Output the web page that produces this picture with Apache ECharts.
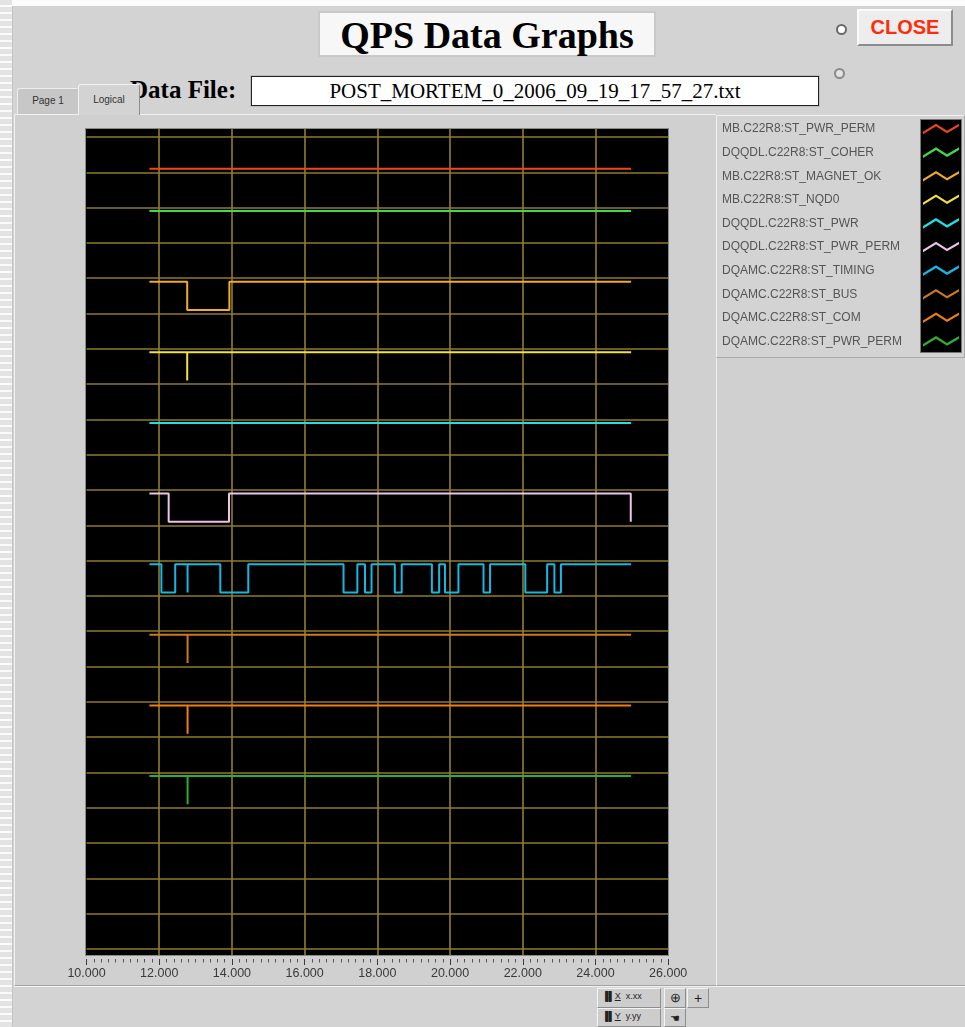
<!DOCTYPE html>
<html><head><meta charset="utf-8">
<script src="https://cdn.jsdelivr.net/npm/echarts@6/dist/echarts.min.js"></script>
<style>
html,body{margin:0;padding:0;width:965px;height:1027px;overflow:hidden;background:#fbfbfb;font-family:'Liberation Sans',Arial,sans-serif;}
.abs{position:absolute;box-sizing:border-box;}
#strip{left:0;top:0;width:12px;height:1027px;background:repeating-linear-gradient(to bottom,#e3e3e3 0,#e3e3e3 5px,#fafafa 5px,#fafafa 7px);}
#app{left:12px;top:6px;width:953px;height:1021px;background:#d3d3d3;border-left:1px solid #c4c4c4;}
#title{left:318px;top:11px;width:338px;height:46px;background:#f7f7f7;border:2px solid #c9c9c9;font:bold 38px 'Liberation Serif','Times New Roman',serif;text-align:center;line-height:44px;color:#000;}
.radio{width:11px;height:11px;border-radius:50%;}
#r1{left:836px;top:24px;background:#fff;border:2px solid #6a6a6a;}
#r2{left:834px;top:68px;background:#e2e2e2;border:2px solid #8a8a8a;}
#close{left:857px;top:9px;width:96px;height:37px;background:#ededed;border:2px solid;border-color:#fafafa #8c8c8c #8c8c8c #fafafa;color:#ff2c0c;font:bold 20px 'Liberation Sans',Arial,sans-serif;text-align:center;line-height:33px;}
#dflabel{left:130px;top:76px;font:bold 25px 'Liberation Serif','Times New Roman',serif;color:#000;white-space:nowrap;}
#fname{left:251px;top:76px;width:568px;height:30px;background:#fff;border:1px solid #222;box-shadow:0 0 0 1px #bdbdbd;font:21px 'Liberation Serif','Times New Roman',serif;text-align:center;line-height:28px;color:#000;}
.tab{font:10px 'Liberation Sans',Arial,sans-serif;color:#333;text-align:center;border:1px solid;border-bottom:none;border-radius:3px 3px 0 0;}
#tab1{left:17px;top:88px;width:62px;height:26px;line-height:24px;background:#c7c7c7;border-color:#eeeeee #9d9d9d #9d9d9d #eeeeee;}
#tab2{left:78px;top:84px;width:62px;height:31px;line-height:29px;background:#d3d3d3;border-color:#f2f2f2 #8f8f8f #8f8f8f #f2f2f2;z-index:2;}
#panel{left:14px;top:114px;width:703px;height:872px;border-top:1px solid #f1f1f1;border-left:1px solid #f1f1f1;border-right:1px solid #a3a3a3;border-bottom:1px solid #a3a3a3;background:#d0d0d0;}
#plot{left:85px;top:128px;width:584px;height:828px;background:#000;border:1px solid #8a8a8a;}
#legpanel{left:716px;top:115px;width:249px;height:243px;background:#d3d3d3;border:1px solid #a8a8a8;border-top-color:#f0f0f0;border-left-color:#f0f0f0;}
#rightpanel{left:716px;top:358px;width:249px;height:628px;background:#d0d0d0;border-left:1px solid #f0f0f0;border-bottom:1px solid #a3a3a3;}
#swatch{left:920px;top:119px;width:42px;height:234px;background:#000;border:1px solid #777;}
#bottomline{left:14px;top:986px;width:951px;height:1px;background:#f2f2f2;}
.pal{background:#cdcdcd;border:1px solid;border-color:#f4f4f4 #8d8d8d #8d8d8d #f4f4f4;font:9px 'Liberation Sans',Arial,sans-serif;color:#222;}
#chart{position:absolute;left:0;top:0;width:965px;height:1027px;z-index:3;}
</style></head>
<body>
<div class="abs" id="strip"></div>
<div class="abs" id="app"></div>
<div class="abs" id="title">QPS Data Graphs</div>
<div class="abs radio" id="r1"></div>
<div class="abs radio" id="r2"></div>
<div class="abs" id="close">CLOSE</div>
<div class="abs" id="panel"></div>
<div class="abs" id="dflabel">Data File:</div>
<div class="abs" id="fname">POST_MORTEM_0_2006_09_19_17_57_27.txt</div>
<div class="abs tab" id="tab1">Page 1</div>
<div class="abs tab" id="tab2">Logical</div>
<div class="abs" id="plot"></div>
<div class="abs" id="legpanel"></div>
<div class="abs" id="rightpanel"></div>
<div class="abs" id="swatch"></div>
<div class="abs" id="bottomline"></div>
<div class="abs pal" style="left:597px;top:988px;width:64px;height:20px;padding:2px 0 0 4px;">▐▌<u>X</u>&nbsp;&nbsp;x.xx</div>
<div class="abs pal" style="left:597px;top:1008px;width:64px;height:19px;padding:2px 0 0 4px;">▐▌<u>Y</u>&nbsp;&nbsp;y.yy</div>
<div class="abs pal" style="left:664px;top:988px;width:22px;height:20px;text-align:center;font-size:13px;line-height:18px;">⊕</div>
<div class="abs pal" style="left:687px;top:988px;width:22px;height:20px;text-align:center;font-size:14px;line-height:18px;">+</div>
<div class="abs pal" style="left:664px;top:1008px;width:22px;height:19px;text-align:center;font-size:11px;line-height:18px;">☚</div>
<div id="chart"></div>
<script>
// ---------- data ----------
const xMin = 10, xMax = 26, xStep = 2;
const tStart = 11.73;
const tEnd = 24.98;
const signalNames = [
  'MB.C22R8:ST_PWR_PERM',
  'DQQDL.C22R8:ST_COHER',
  'MB.C22R8:ST_MAGNET_OK',
  'MB.C22R8:ST_NQD0',
  'DQQDL.C22R8:ST_PWR',
  'DQQDL.C22R8:ST_PWR_PERM',
  'DQAMC.C22R8:ST_TIMING',
  'DQAMC.C22R8:ST_BUS',
  'DQAMC.C22R8:ST_COM',
  'DQAMC.C22R8:ST_PWR_PERM'
];
// initial logical state (0/1) of each signal at tStart
const initialStates = [0, 1, 1, 1, 1, 1, 1, 1, 1, 1];
// times at which each signal toggles
const edgesMbPwrPerm   = [];
const edgesCoher       = [];
const edgesMagnetOk    = [12.77, 13.93];
const edgesNqd0        = [12.77, 12.77];
const edgesDqqdlPwr    = [];
const edgesDqqdlPerm   = [12.26, 13.92, 24.97];
const edgesTiming      = [12.06, 12.44, 12.78, 12.78, 13.68, 14.45, 17.07, 17.45, 17.66, 17.84,
                          18.48, 18.67, 19.50, 19.70, 19.86, 20.23, 20.92, 21.10, 22.07, 22.67, 22.87, 23.05];
const edgesBus         = [12.78, 12.78];
const edgesCom         = [12.78, 12.78];
const edgesAmcPwrPerm  = [12.78, 12.78];
const signalEdges = [edgesMbPwrPerm, edgesCoher, edgesMagnetOk, edgesNqd0, edgesDqqdlPwr,
                     edgesDqqdlPerm, edgesTiming, edgesBus, edgesCom, edgesAmcPwrPerm];
const gridValues = [0,1,2,3,4,5,6,7,8,9,10,11,12,13,14,15,16,17,18,19,20,21,22,23];

// ---------- styles ----------
const signalColors = ['#f0461a','#45d845','#f2aa2c','#f2e23c','#1ee0e6','#ecc4ec','#16b8e2','#cf7a1c','#f07e14','#2fae34'];

// each logical trace is drawn in its own 1-unit band (2 units per trace), 0 -> 0.1, 1 -> 0.9
function trace(i) {
  const base = 22 - 2 * i;
  const lv = s => base + 0.1 + 0.8 * s;
  let s = initialStates[i];
  const pts = [[tStart, lv(s)]];
  signalEdges[i].forEach(t => { pts.push([t, lv(s)]); s = 1 - s; pts.push([t, lv(s)]); });
  pts.push([tEnd, lv(s)]);
  return pts;
}

const series = signalNames.map((name, i) => ({
  name, type: 'line', data: trace(i), showSymbol: false, symbol: 'none',
  lineStyle: { width: 2, color: signalColors[i] }, itemStyle: { color: signalColors[i] },
  animation: false, z: 3, silent: true
}));
series.unshift({
  name: '__grid', type: 'line', data: [], z: 1, silent: true, animation: false,
  markLine: {
    silent: true, animation: false, symbol: ['none', 'none'], label: { show: false },
    lineStyle: { color: '#8f7d2b', width: 1.5, type: 'solid' },
    data: gridValues.map(v => ({ yAxis: v }))
  }
});

const zig = 'path://M0,8 L13,0 L24,7 L36,0 L36,2.6 L24,9.6 L13,2.6 L0,10.6 Z';

const chart = echarts.init(document.getElementById('chart'), null, { renderer: 'canvas' });
chart.setOption({
  backgroundColor: 'transparent',
  animation: false,
  grid: { left: 86.5, top: 128.5, width: 581.7, height: 826.5, show: false },
  xAxis: {
    type: 'value', min: xMin, max: xMax, interval: xStep, offset: 4,
    axisLine: { show: false, onZero: false },
    axisTick: { show: true, length: 6, lineStyle: { color: '#3a3a3a', width: 1 } },
    minorTick: { show: true, splitNumber: 10, length: 3.5, lineStyle: { color: '#555', width: 1 } },
    axisLabel: { color: '#3a3a3a', fontSize: 12.5, fontFamily: 'Liberation Sans', margin: 8,
                 formatter: v => v.toFixed(3), showMinLabel: true, showMaxLabel: true },
    splitLine: { show: true, showMinLine: false, showMaxLine: false, lineStyle: { color: '#9a8630', width: 1.5 } }
  },
  yAxis: {
    type: 'value', min: -0.17, max: 23.24,
    axisLine: { show: false, onZero: false }, axisTick: { show: false }, axisLabel: { show: false }, splitLine: { show: false }
  },
  legend: {
    orient: 'vertical', left: 717, top: 118, align: 'right', itemGap: 11.6,
    itemWidth: 36, itemHeight: 11, itemTextGap: 5, icon: zig, selectedMode: false,
    data: signalNames,
    formatter: name => '{a|' + name + '}',
    textStyle: { rich: { a: { width: 196, align: 'left', fontSize: 12, lineHeight: 14, color: '#555', fontFamily: 'Liberation Sans' } } }
  },
  series
});
</script>
</body></html>
